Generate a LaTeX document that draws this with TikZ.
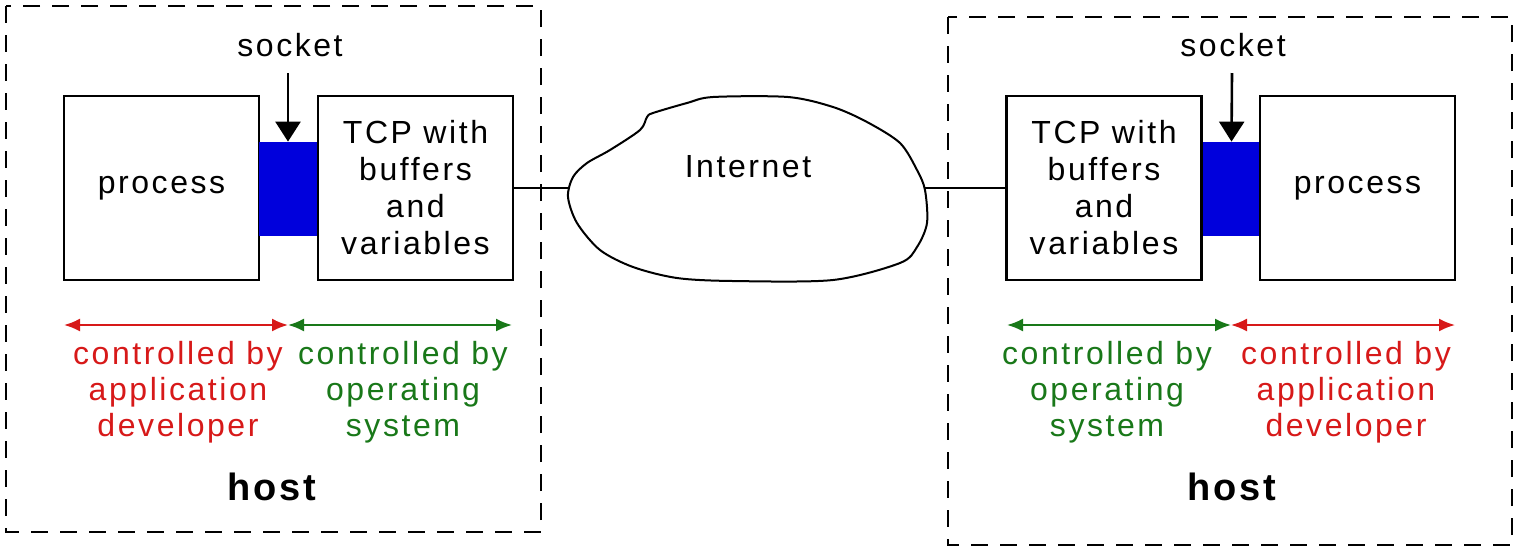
\documentclass[tikz,border=0pt]{standalone}
\usepackage{fontspec}
\setmainfont{Liberation Sans}[LetterSpace=8]
\usetikzlibrary{arrows.meta}
\definecolor{devred}{RGB}{215,25,25}
\definecolor{osgreen}{RGB}{25,120,25}
\definecolor{sockblue}{RGB}{0,0,220}
\tikzset{
  hostbox/.style={draw, line width=1.4pt, dash pattern=on 8.5pt off 6pt},
  box/.style={draw, line width=1.3pt, minimum width=97.5pt, minimum height=92pt,
    inner sep=0pt, align=center, font=\fontsize{16}{18.5}\selectfont},
  sock/.style={fill=sockblue, minimum width=29pt, minimum height=47pt, inner sep=0pt},
  lbl/.style={font=\fontsize{16}{18}\selectfont, align=center, inner sep=0pt},
  hostlbl/.style={font=\fontsize{19}{20}\selectfont\bfseries, inner sep=0pt},
  dimarrow/.style={line width=1pt, {Latex[length=8pt,width=6.5pt]}-{Latex[length=8pt,width=6.5pt]}},
  sockarrow/.style={line width=1.3pt, -{Triangle[width=12.5pt,length=10pt]}}
}
\begin{document}
\begin{tikzpicture}[x=0.5pt, y=-0.5pt]
  \useasboundingbox (0,0) rectangle (1520,548);
  % Draw the two hosts
  \draw[hostbox] (6,6) rectangle (541,532);
  \draw[hostbox] (948,17) rectangle (1512,545);

  % left host
  \node[box] (procL) at (161.5,188) {process};
  \node[sock] (sockL) at (288,189) {};
  \node[box] (tcpL) at (415.5,188) {TCP with\\buffers\\and\\variables};
  \node[lbl] (sockTxtL) at (290,45) {socket};
  \coordinate (sockTopL) at (288,73);
  \draw[sockarrow] (sockTopL) -- (sockL.north);
  \coordinate (devL) at (64,325);
  \coordinate (midL) at (288,325);
  \coordinate (osL) at (512,325);
  \draw[dimarrow, devred] (devL) -- (midL);
  \draw[dimarrow, osgreen] (midL) -- (osL);
  \node[lbl, text=devred] (devTxtL) at (178,392) {controlled by\\application\\developer};
  \node[lbl, text=osgreen] (osTxtL) at (403,392) {controlled by\\operating\\system};
  \node[hostlbl] (hostL) at (272,487) {host};

  % right host
  \node[box] (tcpR) at (1104,188) {TCP with\\buffers\\and\\variables};
  \node[sock] (sockR) at (1231.5,189) {};
  \node[box] (procR) at (1357.5,188) {process};
  \node[lbl] (sockTxtR) at (1233,45) {socket};
  \coordinate (sockTopR) at (1232,73);
  \draw[sockarrow] (sockTopR) -- (sockR.north);
  \coordinate (osR) at (1007,325);
  \coordinate (midR) at (1231,325);
  \coordinate (devR) at (1455,325);
  \draw[dimarrow, osgreen] (osR) -- (midR);
  \draw[dimarrow, devred] (midR) -- (devR);
  \node[lbl, text=osgreen] (osTxtR) at (1107,392) {controlled by\\operating\\system};
  \node[lbl, text=devred] (devTxtR) at (1346,392) {controlled by\\application\\developer};
  \node[hostlbl] (hostR) at (1232,487) {host};

  % Draw the Internet cloud
  \draw[line width=1pt] plot[smooth cycle, tension=0.5] coordinates {
    (713,97) (788,97) (833,107) (867,122) (900,143) (917,170) (925,190)
    (927,223) (917,247) (900,263) (833,280) (733,281) (677,278) (633,267)
    (600,250) (577,223) (568,197) (573,177) (587,163) (610,150) (640,130)
    (647,117) (653,113) (687,103)};
  \node[lbl] (net) at (748,167) {Internet};
  \coordinate (cloudW) at (570,188);
  \coordinate (cloudE) at (925,188);
  \draw[line width=1.2pt] (tcpL.east) -- (cloudW);
  \draw[line width=1.2pt] (cloudE) -- (tcpR.west);
\end{tikzpicture}
\end{document}
